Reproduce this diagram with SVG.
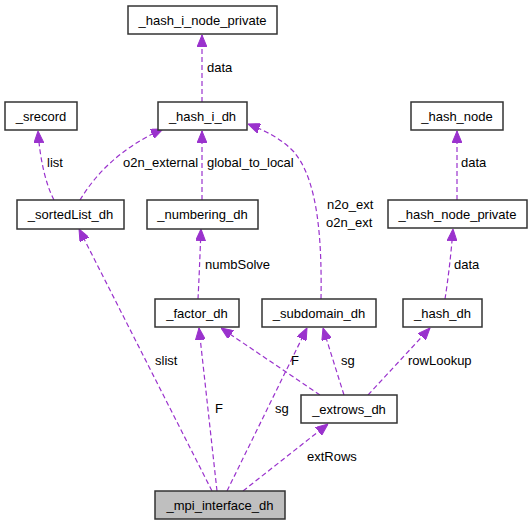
<svg xmlns="http://www.w3.org/2000/svg" width="532" height="525" viewBox="0 0 532 525">
<defs>
<style>
.n rect{fill:#ffffff;stroke:#333333;stroke-width:1.5}
.n text{font-family:"Liberation Sans",Arial,sans-serif;font-size:13px;text-anchor:middle;fill:#000}
.e path{fill:none;stroke:#9a32cd;stroke-width:1.2;stroke-dasharray:5,3}
.e text{font-family:"Liberation Sans",Arial,sans-serif;font-size:13px;fill:#000}
</style>
<marker id="ah" viewBox="0 0 12 10" refX="12" refY="5" markerWidth="12" markerHeight="10" markerUnits="userSpaceOnUse" orient="auto">
<path d="M0,0 L12,5 L0,10 z" fill="#9a32cd" stroke="#9a32cd"/>
</marker>
</defs>
<rect width="532" height="525" fill="#ffffff"/>
<g id="connectors" class="e">
<path d="M202,102 L202,35" marker-end="url(#ah)"/>
<text x="207" y="72">data</text>
<path d="M54,200 C46,185 40,160 38,131" marker-end="url(#ah)"/>
<text x="47" y="167">list</text>
<path d="M80,200 C95,175 120,148 163,129" marker-end="url(#ah)"/>
<text x="123" y="167">o2n_external</text>
<path d="M202,200 L202,131" marker-end="url(#ah)"/>
<text x="207" y="167">global_to_local</text>
<path d="M321,299 C322,240 318,180 294,152 C282,139 266,131 248,124" marker-end="url(#ah)"/>
<text x="327" y="209">n2o_ext</text>
<text x="326" y="227">o2n_ext</text>
<path d="M457,200 L457,131" marker-end="url(#ah)"/>
<text x="461" y="167">data</text>
<path d="M445,299 C448,280 451,255 453,229" marker-end="url(#ah)"/>
<text x="454" y="269">data</text>
<path d="M198,299 C199,280 200,255 201,229" marker-end="url(#ah)"/>
<text x="205" y="269">numbSolve</text>
<path d="M212,491 L79,229" marker-end="url(#ah)"/>
<text x="155" y="365">slist</text>
<path d="M217,491 L199,328" marker-end="url(#ah)"/>
<text x="215" y="413">F</text>
<path d="M227,491 L307,328" marker-end="url(#ah)"/>
<text x="275" y="413">sg</text>
<path d="M243,491 L328,424" marker-end="url(#ah)"/>
<text x="307" y="461">extRows</text>
<path d="M320,395 L221,328" marker-end="url(#ah)"/>
<text x="291" y="365">F</text>
<path d="M344,395 L323,328" marker-end="url(#ah)"/>
<text x="341" y="365">sg</text>
<path d="M368,395 L430,328" marker-end="url(#ah)"/>
<text x="408" y="365">rowLookup</text>
</g>
<g id="hash_i_node_private" class="n"><rect x="128" y="6" width="149" height="28"/><text x="202.5" y="25">_hash_i_node_private</text></g>
<g id="srecord" class="n"><rect x="5" y="102" width="72" height="28"/><text x="41" y="121">_srecord</text></g>
<g id="hash_i_dh" class="n"><rect x="158" y="102" width="89" height="28"/><text x="202.5" y="121">_hash_i_dh</text></g>
<g id="hash_node" class="n"><rect x="411" y="102" width="92" height="28"/><text x="457" y="121">_hash_node</text></g>
<g id="sortedList_dh" class="n"><rect x="17" y="200" width="107" height="29"/><text x="70.5" y="219">_sortedList_dh</text></g>
<g id="numbering_dh" class="n"><rect x="147" y="200" width="111" height="29"/><text x="202.5" y="219">_numbering_dh</text></g>
<g id="hash_node_private" class="n"><rect x="388" y="200" width="139" height="28"/><text x="457.5" y="219">_hash_node_private</text></g>
<g id="factor_dh" class="n"><rect x="155" y="299" width="84" height="28"/><text x="197" y="318">_factor_dh</text></g>
<g id="subdomain_dh" class="n"><rect x="262" y="299" width="114" height="28"/><text x="319" y="318">_subdomain_dh</text></g>
<g id="hash_dh" class="n"><rect x="403" y="299" width="79" height="28"/><text x="442.5" y="318">_hash_dh</text></g>
<g id="extrows_dh" class="n"><rect x="301" y="395" width="96" height="28"/><text x="349" y="414">_extrows_dh</text></g>
<g id="mpi_interface_dh" class="n"><rect x="155" y="491" width="130" height="28" style="fill:#bfbfbf"/><text x="220" y="510">_mpi_interface_dh</text></g>
</svg>
